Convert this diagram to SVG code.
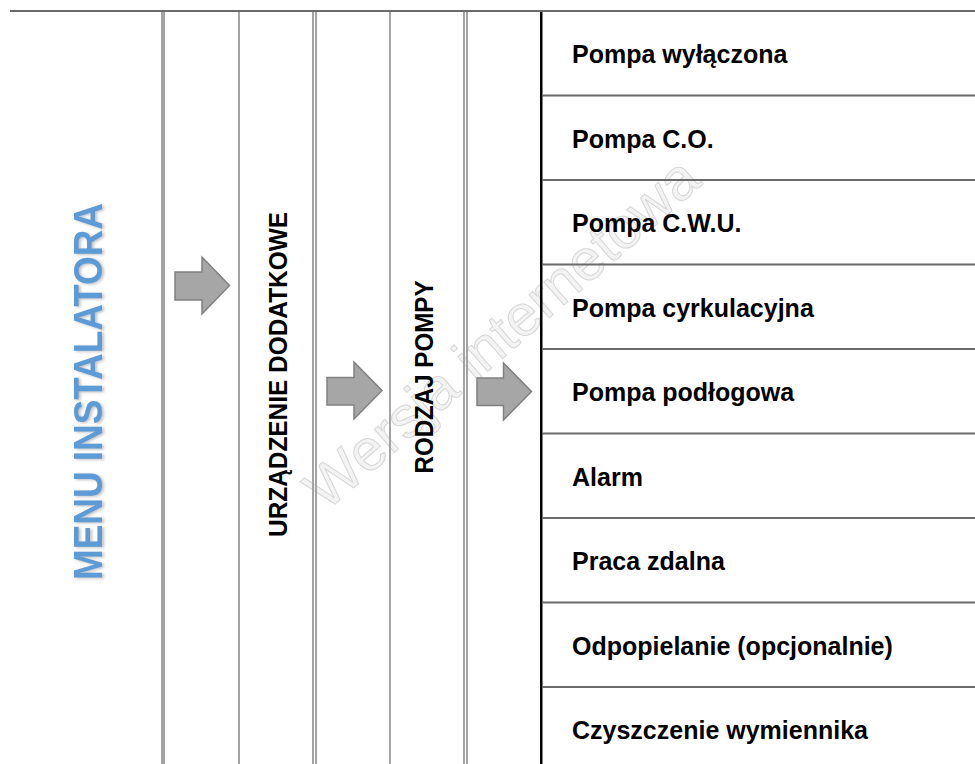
<svg xmlns="http://www.w3.org/2000/svg" width="975" height="764" viewBox="0 0 975 764">
  <style>
    .hline { stroke: #6b6b6b; stroke-width: 2; fill: none; }
    .vgray { fill: #a3a3a3; }
    .opt { font-family: "Liberation Sans", Arial, sans-serif; font-weight: bold; font-size: 25px; fill: #000000; }
    .vlabel { font-family: "Liberation Sans", Arial, sans-serif; font-weight: bold; font-size: 25px; fill: #000000; }
    .menu { font-family: "Liberation Sans", Arial, sans-serif; font-weight: bold; font-size: 40px; fill: #5b9bd5; }
    .arrow { fill: #a6a6a6; stroke: #808080; stroke-width: 1.5; stroke-linejoin: miter; }
    .wm { font-family: "Liberation Sans", Arial, sans-serif; font-size: 58px; fill: #f3f3f3; stroke: #d6d6d6; stroke-width: 1; }
  </style>
  <defs>
    <filter id="glow" x="-20%" y="-5%" width="140%" height="110%">
      <feDropShadow dx="2" dy="1" stdDeviation="1.5" flood-color="#8c8c8c" flood-opacity="0.55"/>
    </filter>
  </defs>
  <rect x="0" y="0" width="975" height="764" fill="#ffffff"/>

  <!-- watermark -->
  <text class="wm" transform="translate(326,512) rotate(-41)" textLength="500" lengthAdjust="spacingAndGlyphs">Wersja internetowa</text>

  <!-- table grid -->
  <g id="grid">
    <line class="hline" x1="10" y1="11" x2="975" y2="11"/>
    <rect class="vgray" x="161" y="12" width="4" height="752"/>
    <rect class="vgray" x="238" y="12" width="2" height="752"/>
    <rect class="vgray" x="312" y="12" width="2" height="752"/>
    <rect class="vgray" x="315" y="12" width="2" height="752"/>
    <rect class="vgray" x="389" y="12" width="2" height="752"/>
    <rect class="vgray" x="463" y="12" width="2" height="752"/>
    <rect class="vgray" x="466" y="12" width="2" height="752"/>
    <rect x="540" y="12" width="2.5" height="752" fill="#000000"/>
    <line class="hline" x1="542" y1="95.5" x2="975" y2="95.5"/>
    <line class="hline" x1="542" y1="180" x2="975" y2="180"/>
    <line class="hline" x1="542" y1="264.5" x2="975" y2="264.5"/>
    <line class="hline" x1="542" y1="349" x2="975" y2="349"/>
    <line class="hline" x1="542" y1="433.5" x2="975" y2="433.5"/>
    <line class="hline" x1="542" y1="518" x2="975" y2="518"/>
    <line class="hline" x1="542" y1="602.5" x2="975" y2="602.5"/>
    <line class="hline" x1="542" y1="687" x2="975" y2="687"/>
  </g>

  <g id="node-menu-instalatora" filter="url(#glow)">
    <text class="menu" transform="translate(102,580) rotate(-90)" textLength="377" lengthAdjust="spacingAndGlyphs">MENU INSTALATORA</text>
  </g>

  <g id="node-urzadzenie-dodatkowe">
    <text class="vlabel" transform="translate(287,537) rotate(-90)" textLength="325" lengthAdjust="spacingAndGlyphs">URZĄDZENIE DODATKOWE</text>
  </g>

  <g id="node-rodzaj-pompy">
    <text class="vlabel" transform="translate(433,473.5) rotate(-90)" textLength="193" lengthAdjust="spacingAndGlyphs">RODZAJ POMPY</text>
  </g>

  <g id="node-options">
    <g id="opt-wylaczona"><text class="opt" x="572" y="63">Pompa wyłączona</text></g>
    <g id="opt-co"><text class="opt" x="572" y="147.5">Pompa C.O.</text></g>
    <g id="opt-cwu"><text class="opt" x="572" y="232">Pompa C.W.U.</text></g>
    <g id="opt-cyrkulacyjna"><text class="opt" x="572" y="316.5">Pompa cyrkulacyjna</text></g>
    <g id="opt-podlogowa"><text class="opt" x="572" y="401">Pompa podłogowa</text></g>
    <g id="opt-alarm"><text class="opt" x="572" y="485.5">Alarm</text></g>
    <g id="opt-praca"><text class="opt" x="572" y="570">Praca zdalna</text></g>
    <g id="opt-odpopielanie"><text class="opt" x="572" y="654.5">Odpopielanie (opcjonalnie)</text></g>
    <g id="opt-czyszczenie"><text class="opt" x="572" y="739">Czyszczenie wymiennika</text></g>
  </g>

  <g id="connectors">
    <path class="arrow" d="M175,272 H202 V257 L229.5,285.5 L202,314 V300 H175 Z"/>
    <path class="arrow" d="M327,377.5 H354 V362 L382,390.5 L354,419 V405 H327 Z"/>
    <path class="arrow" d="M477,378 H503.5 V363 L531.5,391.5 L503.5,420 V405.5 H477 Z"/>
  </g>
</svg>
